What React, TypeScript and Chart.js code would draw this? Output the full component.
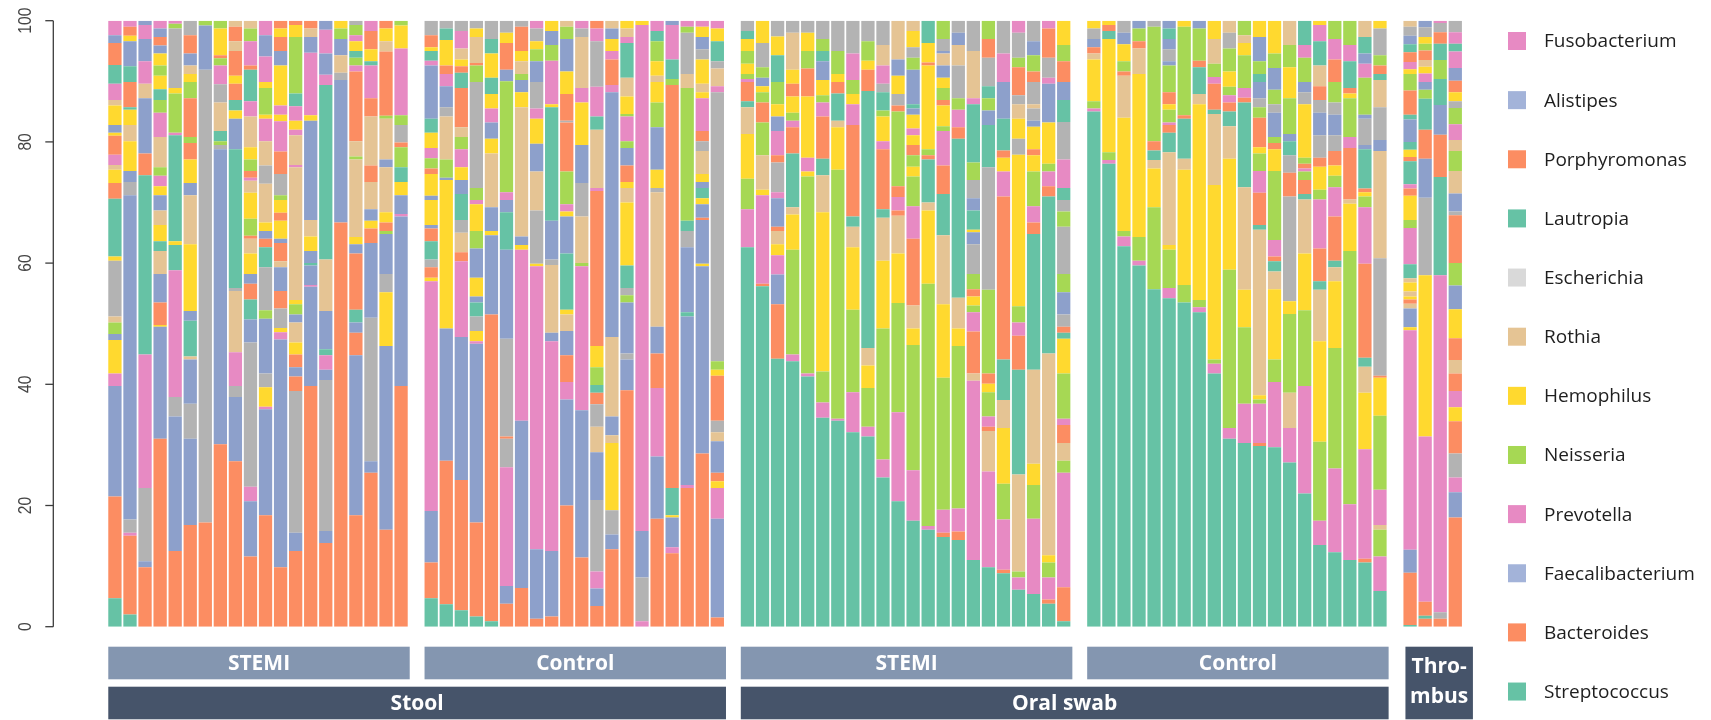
import { useEffect, useRef } from "react";
import { Chart, registerables } from "chart.js";

Chart.register(...registerables);

// colour codes (Set2 palette, repeated for the many genera)
const T = 0, O = 1, B = 2, P = 3, G = 4, Y = 5, N = 6, A = 7;
const palette = ["#66c2a5", "#fc8d62", "#8da0cb", "#e78ac3", "#a6d854", "#ffd92f", "#e5c494", "#b3b3b3"];

// each sample: [colour, cumulative top %, colour, cumulative top %, ...] bottom -> top
const stoolStemi = [
  [T,4.7,O,21.5,B,39.7,P,41.8,Y,47.3,B,48.3,G,50.2,N,51.2,A,60.4,Y,61.1,T,70.6,O,73.2,Y,75.4,N,76.2,P,77.9,O,81,Y,81.5,B,82.8,Y,86,N,86.9,P,89.6,T,92.7,O,96.3,B,97.6,P,100],
  [T,2,O,15,P,15.5,A,17.7,B,71.2,A,73.4,B,75.2,Y,80.1,N,82.8,Y,85.3,T,85.7,O,89.9,T,92.5,B,96.6,Y,97.5,O,99,P,100],
  [O,9.8,B,10.8,A,22.9,P,44.9,T,74.5,O,78.1,B,87.2,N,89.6,P,93.3,B,97,P,99.3,B,100],
  [O,31,B,49.5,Y,49.8,O,53.5,B,58.2,N,62,T,63.6,Y,66.3,N,68.7,B,71.2,Y,72.7,P,74.4,G,75.8,N,80.8,P,84.8,G,86.9,T,88.7,Y,90.9,G,92.6,Y,94.6,B,95.9,O,97.3,B,98.7,P,100],
  [O,12.5,B,34.7,A,37.9,P,58.8,T,63,Y,63.6,T,81.1,P,81.5,G,88,Y,88.9,A,98.7,G,99.5,P,100],
  [O,16.8,B,31,A,36.8,B,44.1,N,44.6,T,50.5,B,52.1,Y,63.1,N,71.2,B,73.2,Y,77.1,O,79.8,G,80.8,O,87.2,G,89.9,Y,91.2,N,92.6,B,94.6,O,97.6,A,100],
  [O,17.2,A,91.9,B,99.2,G,100],
  [O,30.1,B,78.8,A,79.5,G,80.1,T,81.8,N,86.5,A,89.5,P,92.6,G,93.8,O,94.3,Y,98.7,G,100],
  [O,27.3,B,37.9,A,39.7,P,45.3,N,55.4,A,55.9,T,78.8,B,83.8,Y,85.2,T,86.9,O,89.6,Y,90.9,O,95,N,96.6,O,99,N,100],
  [O,11.6,B,20.7,P,23.1,A,46.9,B,50.7,T,54,O,56.6,B,58.2,Y,61.6,N,64,O,64.5,G,67.3,Y,71.6,N,73.6,P,74.1,O,75.2,G,77.1,Y,79.1,N,84.2,P,86.7,T,91.9,O,92.6,P,96.6,G,98.7,N,100],
  [O,18.4,B,35.9,P,36.3,Y,39.5,A,41.8,B,50.8,G,52.2,A,59.3,T,62.6,O,64,B,65.3,Y,66.7,N,73.1,A,76.1,N,80.1,P,83.8,Y,84.5,G,88.9,Y,89.9,P,94.1,B,97.6,P,100],
  [O,9.8,B,47.4,P,48.6,Y,49.3,A,52.5,O,55.4,B,59.3,N,60.3,O,63.3,B,64,Y,67,O,68.3,Y,70.4,G,71.2,A,74.7,O,78.4,P,83.4,Y,84.5,P,86,Y,92.6,B,95,O,97.3,Y,98.7,O,100],
  [O,12.5,B,15.5,A,38.9,O,41.3,B,42.8,O,44.9,Y,46.9,N,50.2,B,51.5,G,53.2,Y,53.9,N,75.8,P,76.2,N,81.1,P,82,Y,83.5,P,85.9,T,88,G,97.3,Y,99.3,O,100],
  [O,39.7,B,56.1,P,56.4,B,59.6,T,60,B,62,Y,64.4,N,67.1,B,83.5,Y,84.4,P,94.7,B,97.3,N,98.7,O,100],
  [O,13.8,B,15.8,A,40.7,B,42.4,P,44.8,T,45.8,B,52.1,N,60.6,T,89.4,P,91.1,B,94.6,P,98.5,B,100],
  [O,66.7,B,90.2,A,91.4,N,94.3,B,97,G,98.7,Y,100],
  [O,18.4,B,44.8,O,48.5,B,50.2,T,52.3,O,61.6,B,63.1,Y,64.3,N,77.1,G,77.6,N,80.1,O,91.6,P,92.6,G,93.9,T,95,Y,96.6,P,97.6,G,99.3,A,100],
  [O,25.4,B,27.3,A,51,B,63.3,O,65.7,Y,67,B,68.9,N,73.4,O,76.1,N,84.2,O,87.2,P,92.6,T,93.3,Y,95.3,O,98.3,P,100],
  [O,16,B,46.3,Y,55.2,A,58.2,B,64.8,G,65.3,O,66.7,Y,68.4,N,75.8,B,77.1,N,83.8,G,84.3,O,94.9,N,96.6,Y,98.7,O,100],
  [O,39.7,B,67.7,P,68.1,B,71.2,Y,73.4,T,75.8,G,79.1,O,79.9,A,82.8,G,84.4,P,95.4,Y,99.2,G,100],
];

const stoolControl = [
  [T,4.7,O,10.6,B,19.1,P,57,Y,57.6,O,59.3,A,60.6,T,63.6,O,65.7,B,66.3,Y,70.4,B,71.1,Y,74.7,O,75.6,G,77.3,P,79,Y,81.5,T,83.8,B,92.6,P,93.4,T,95,Y,95.6,O,97.6,A,100],
  [T,3.7,O,27.4,B,49.2,Y,73.7,B,74.1,G,77.1,N,84.2,A,85.7,B,89.2,P,91.2,O,92.6,Y,96.8,T,98.7,A,100],
  [T,2.7,O,24.2,B,47.8,P,60.3,O,61.8,N,65,A,67.1,T,71.4,B,73.7,Y,75.8,P,78.8,G,80.8,N,82.4,O,88.9,T,91.4,O,92.5,Y,93.6,N,95.4,P,98.3,A,100],
  [T,1.7,O,17.2,B,46.7,P,47.1,Y,48.8,A,51.2,T,53.5,B,54.5,Y,57.6,B,62.4,G,65.3,Y,69.7,P,70.4,G,72.4,A,89.9,G,92.6,O,93,N,97.3,Y,98.7,A,100],
  [T,0.9,O,51.5,B,64.6,Y,65.3,B,69.2,N,78.1,Y,80.5,B,83.2,P,85.5,Y,87.9,T,90.6,Y,94.6,T,97,A,100],
  [O,3.8,B,6.7,P,26.3,A,31,O,31.4,A,47.5,B,62.2,T,68.4,B,70.4,P,71.7,G,90,B,91.9,O,96.3,Y,98,A,100],
  [O,6.4,B,34,P,62.2,Y,63,B,64.4,N,85.7,Y,88.2,B,90.2,G,91.2,N,93.3,Y,95,O,99,A,100],
  [O,1.3,B,12.8,P,59.5,Y,59.9,A,68.7,N,75.1,B,79.7,Y,83.8,P,85.5,A,89.9,B,93.3,G,95.3,Y,96.6,A,98.7,P,100],
  [O,1.7,B,12.5,P,47.1,B,48.5,N,59.7,A,60.6,B,67,T,85.7,Y,86.2,P,93.4,G,96,B,98.3,Y,100],
  [O,20,B,37.5,P,40.4,O,44.8,B,48.8,N,51.5,Y,52.3,T,61.6,B,67.7,Y,68.5,P,69.7,G,75.1,O,83.2,A,83.5,O,87.9,Y,91.6,B,97,G,99,N,100],
  [O,11.4,B,35.7,P,59.5,G,60,N,67.7,A,73.2,B,79.5,Y,86.5,P,88.9,N,97.3,A,98.7,P,100],
  [O,3.4,B,6.3,P,9.1,A,20.9,B,28.8,N,33,A,36.7,O,38.6,T,39.9,G,42.8,Y,46.3,O,71.9,P,72.4,N,82,T,84.2,P,89.1,A,96.6,P,98.7,O,100],
  [O,12.8,B,15.2,A,19.2,Y,30.3,N,31.6,B,34.7,N,47.8,B,88.2,P,89.4,O,93.6,P,95,Y,97,B,98.7,N,100],
  [O,39,B,44.1,A,45.1,B,53.5,G,54.7,A,55.9,T,59.6,Y,70,N,72.4,Y,73.4,O,76.1,B,79,G,80.1,P,84.2,G,84.6,Y,87.5,N,90.6,T,96.3,P,97.3,N,98.7,Y,100],
  [P,0.9,A,8.1,B,15.8,P,99.3,Y,100],
  [O,17.8,B,28.1,P,39.4,O,45.1,B,49.5,N,71.7,A,72.4,Y,75.4,B,82.4,G,86.5,Y,89.9,N,90.9,Y,93.3,G,96.6,T,98.3,P,100],
  [O,12.1,P,13.1,B,18,Y,18.4,T,22.9,O,89.4,G,90.4,T,93.6,P,99.3,B,100],
  [O,22.9,P,23.4,B,51.2,T,51.9,B,62.6,A,65.3,T,67,G,88.9,N,91.2,A,98,G,99,P,100],
  [O,28.6,B,59.5,Y,59.9,B,67.1,O,67.5,B,69.7,Y,70.7,T,72.4,B,73.4,Y,74.7,N,78.5,A,80.1,O,81.8,P,87.2,Y,88.2,N,89.6,Y,93.6,A,95.3,B,97.3,Y,99,P,100],
  [O,1.5,B,17.8,P,22.9,Y,24,O,25.4,B,30.6,N,32.1,A,34,O,41.4,Y,42.4,G,43.8,A,88.2,P,89.2,N,92.1,A,93.3,T,96.6,Y,98.7,P,100],
];

const oralStemi = [
  [T,62.6,P,68.9,G,73.9,Y,81.3,N,85.7,T,86.7,O,89.9,P,90.4,G,91.2,Y,92.9,G,95,Y,97,T,98.3,A,100],
  [T,56.2,O,56.6,P,71.2,Y,72.1,N,77.8,G,83.2,O,86.5,G,88.2,Y,89.2,B,90.6,G,92.3,A,96.3,Y,100],
  [T,44.2,O,53.2,B,58.1,P,61.3,Y,63.1,N,65.3,O,66,B,70.7,P,71.7,A,76.6,O,77.8,P,81.8,B,84.2,Y,86.2,G,89.9,T,94.3,Y,97.4,A,100],
  [T,43.8,P,44.9,G,62.2,Y,68,N,69.2,T,78.1,O,82.4,P,83.5,G,84.8,Y,87.5,O,89.6,Y,91.9,N,98,A,100],
  [T,41.3,P,41.8,G,74.3,Y,75.1,P,77.4,Y,87.5,O,92.1,G,95,Y,98,A,100],
  [T,34.5,P,37,G,42.1,Y,68.4,N,74.5,T,77.2,O,84.2,P,86.5,G,87.7,Y,90.2,B,93.3,T,95,G,97,A,100],
  [T,34,P,34.3,G,75.4,Y,82.4,N,83.5,T,88,O,89.9,Y,91.2,G,95,A,100],
  [T,32.1,P,38.7,G,52.3,Y,62.6,N,66,T,67.7,O,82.8,P,86.2,Y,87.9,G,90.2,P,94.6,A,100],
  [T,31.4,P,33,G,39.4,Y,43.1,N,46,T,88.4,O,91.9,Y,93.4,G,96.6,A,100],
  [T,24.6,P,27.6,G,49.2,Y,60.4,N,67.5,T,68.9,O,78.8,P,80.1,Y,84.2,G,85.2,T,88.2,A,89.6,P,92.6,N,96,A,100],
  [T,20.7,P,35.4,G,53.4,Y,61.6,N,67.8,O,68.7,P,70.9,O,72.7,G,85,O,86,A,87.9,Y,90.9,B,93.6,N,100],
  [T,17.5,P,25.8,G,46.5,Y,49.2,N,53,O,64,P,69.4,G,74.3,Y,75.9,G,77.8,O,79.5,Y,81.1,P,82.2,Y,84.5,B,85.5,T,86.2,B,91.9,G,93.9,A,95.6,Y,98.3,N,100],
  [T,16,P,16.6,G,56.6,Y,68.7,N,70,T,77.1,O,77.8,G,78.8,Y,92.6,O,93.1,Y,96.3,T,100],
  [T,14.8,O,15.5,P,19.3,G,41.1,Y,53.2,N,64.6,T,71.4,O,76.1,P,81.8,G,82.6,Y,86,O,86.9,G,88.9,Y,90.6,B,92.6,N,94.6,B,95,A,97,G,100],
  [T,14.3,O,15.7,P,19.5,G,46.3,Y,49.2,N,54.3,T,80.5,O,82.4,P,85.3,G,87.2,A,92.6,N,96,B,98,A,100],
  [T,11,P,40.6,N,41.8,O,48.7,P,51.9,G,53,Y,54.5,O,55.7,G,58.2,A,63.1,B,65.1,Y,65.5,T,68.7,B,70.7,A,73.7,G,76.6,T,86.2,P,87.2,N,95,A,100],
  [T,9.8,P,25.6,N,32.3,O,33,P,34.7,G,38.7,Y,40.1,O,41.8,G,55.6,A,75.8,T,82.8,B,85.2,G,87.2,T,89.2,A,93.9,O,97,G,100],
  [T,8.8,O,9.4,P,17.7,G,23.6,Y,32.8,N,37.4,T,44.1,O,71,P,75.1,Y,77.4,O,78.6,T,83.8,B,89.9,P,94.6,A,100],
  [T,6.1,P,8.1,G,9.1,N,25.1,T,42.4,O,48,P,50.2,G,52.9,Y,77.9,A,80.5,Y,83.8,N,86.2,A,87.7,O,92.3,G,93.9,A,98,P,100],
  [T,5.4,P,17.8,G,23.4,Y,26.9,N,42.4,T,64.8,O,66.7,P,69.4,G,75.1,Y,77.8,O,78.8,Y,82.5,B,83.5,A,85.5,N,86.2,A,89.9,O,91.6,G,94.3,B,96.6,A,100],
  [T,3.8,O,4.5,P,8.1,G,10.6,Y,11.8,N,45.1,T,71,O,72.7,P,75.1,G,76.4,Y,83.2,B,89.6,P,90.6,A,93.9,O,98.7,P,100],
  [T,0.9,O,6.5,P,25.4,G,27.4,N,30.3,O,33.3,P,34.3,G,41.8,Y,47.5,T,48.5,O,49.5,A,51.5,B,55.2,G,58.2,A,66,G,68.5,A,70.4,T,72.4,P,77.1,A,83.3,T,86.9,B,89.9,O,93.3,G,96,Y,100],
];

const oralControl = [
  [T,85,P,85.5,G,86.7,Y,93.6,N,94.6,O,95.6,B,97,A,98.7,Y,100],
  [T,76.4,P,77,G,78.3,Y,97,T,98.3,O,99.3,Y,100],
  [T,62.8,P,64.4,G,65.3,Y,84,N,90.9,O,91.6,G,93.3,Y,96.1,B,98,A,100],
  [T,59.6,P,60.4,G,64.3,Y,91.2,N,95.4,O,96.6,G,98.7,B,100],
  [T,55.7,G,69.2,Y,75.6,N,77,T,78.6,O,80.1,G,99,A,100],
  [T,54.2,P,55.9,G,62.2,Y,63,N,78.3,T,81.5,O,82.8,P,83.2,G,85.3,Y,86.2,O,88.2,G,92.6,B,93.3,A,95.3,B,97,T,98.7,B,100],
  [T,53.5,G,56.4,Y,75.4,N,77.2,T,83.8,O,84.4,G,99,Y,100],
  [T,51.9,P,52.7,G,53.9,Y,86.2,N,87.9,T,92.3,O,93.4,G,98.7,B,100],
  [T,41.8,P,43.4,G,44.1,Y,72.9,N,84.6,T,85.3,O,89.6,P,90.7,G,92.9,N,97,Y,100],
  [T,31,P,32.8,G,58.9,Y,77.2,N,82.6,T,85,O,86.5,P,87.7,G,89.1,Y,91.6,G,95.4,A,98,N,100],
  [T,30.3,P,36.8,G,49.4,Y,55.6,N,72.5,T,86.5,O,87.3,P,88.9,G,94.3,Y,96.3,N,97.6,G,100],
  [T,29.8,O,30.3,P,36.8,G,37.5,Y,38.2,N,65.5,T,66.3,O,71.6,P,75.2,G,78.1,Y,79.1,O,84,G,85.7,A,87.2,B,89.9,T,91.2,G,93.3,B,97.3,Y,100],
  [T,29.6,P,40.4,G,44.1,Y,55.7,N,58.6,T,60.3,O,61.1,P,63.8,G,75.2,Y,78.8,O,79.8,G,80.8,B,84.8,A,86.2,G,88.6,B,92.2,G,94.6,Y,100],
  [T,27.1,P,32.8,N,38.6,G,51.6,Y,53.7,A,71,O,74.9,A,77.8,T,80.1,B,81.3,G,87.2,Y,92.3,G,96,N,100],
  [T,22,P,39.7,G,52.2,Y,61.6,N,70.5,T,71.4,O,73.7,G,75.1,P,75.6,O,76.4,G,77.4,Y,86.2,A,88.2,B,89.9,G,93.9,P,96,T,100],
  [T,13.5,P,17.5,G,30.5,Y,47.1,N,55.6,T,57,O,62.4,P,70.5,G,72.1,Y,75.9,O,77.4,A,81.1,B,84.8,A,86.9,O,89.2,N,92.6,T,96.6,P,99.3,Y,100],
  [T,12.3,P,26.1,G,46,Y,57,N,59.3,T,60.4,O,67.7,P,72.5,G,74.4,Y,76.1,O,78.5,A,81.1,B,84.5,A,86.5,G,89.9,O,93.6,P,97,G,100],
  [T,11,P,20.2,G,62,Y,69.8,N,70.5,O,79,P,80.8,G,87.2,Y,88,O,88.9,T,93.3,P,96,G,100],
  [T,10.6,O,11.2,P,29.3,Y,38.6,N,42.9,T,44.4,O,59.9,P,69.2,G,71,Y,71.7,O,72.3,T,78.8,B,79.5,A,83.8,B,84.5,G,90.6,P,92.9,B,94.6,T,97.3,N,100],
  [T,5.9,P,11.6,G,16,N,16.8,P,22.6,G,34.8,Y,41.1,O,41.4,A,60.8,N,78.5,B,80.3,A,85.7,N,90.2,T,91.2,O,92.6,G,94.3,A,98.7,Y,100],
];

const thrombus = [
  [T,0.3,O,8.9,B,12.7,P,48.9,Y,49.4,B,52.5,N,53.3,O,54,Y,54.5,N,55.3,Y,56.8,N,57.5,T,59.8,P,65.8,G,67.1,Y,71.1,O,72.3,P,73,T,76.8,O,77.5,Y,78.7,T,80,B,83.7,T,84.5,O,88.5,G,91.2,Y,92,P,93.2,O,94.8,T,96.1,B,97.5,A,99,N,100],
  [O,1.3,T,1.8,O,4.1,P,31.4,Y,58,A,70.8,B,77.2,O,82,T,87.1,G,88.6,B,89.9,P,91.3,Y,92.4,N,93.5,O,95.1,G,96.2,Y,97.3,A,98.9,B,100],
  [O,1.3,A,2.4,P,58,T,74.2,O,81.2,B,86.1,T,90.4,G,93.5,T,96.2,O,98.1,A,99.6,P,100],
  [O,18,B,22.2,P,24.6,A,28.6,O,33.9,Y,36.2,P,38.9,O,41.8,N,44,O,47.6,Y,52.4,B,56.3,G,60,O,67.9,A,68.5,B,71.5,N,75.2,G,78.5,N,80.3,P,82.9,G,85.6,A,86.7,Y,88.2,O,90.1,B,92.2,P,94.9,T,96.2,P,98.1,A,100],
];

const legendNames = ["Fusobacterium", "Alistipes", "Porphyromonas", "Lautropia", "Escherichia", "Rothia", "Hemophilus", "Neisseria", "Prevotella", "Faecalibacterium", "Bacteroides", "Streptococcus"];
const legendColors = ["#e78ac3", "#a3b3d9", "#fc8d62", "#66c2a5", "#d9d9d9", "#e5c494", "#ffd92f", "#a6d854", "#e78ac3", "#a3b3d9", "#fc8d62", "#66c2a5"];
const yTicks = [0, 20, 40, 60, 80, 100];

const groupDefs = [
  { site: "Stool", sub: "STEMI", samples: stoolStemi },
  { site: "Stool", sub: "Control", samples: stoolControl },
  { site: "Oral swab", sub: "STEMI", samples: oralStemi },
  { site: "Oral swab", sub: "Control", samples: oralControl },
  { site: "Thrombus", sub: "", samples: thrombus },
];
const siteLabels = [
  { label: "Stool", groups: [0, 1] },
  { label: "Oral swab", groups: [2, 3] },
];

export default function App() {
  const ref = useRef<HTMLCanvasElement | null>(null);

  useEffect(() => {
    const canvas = ref.current;
    if (!canvas) return;

    const slots: { segs: number[] | null; label: string }[] = [];
    const ranges: { first: number; last: number }[] = [];
    groupDefs.forEach((g, gi) => {
      const first = slots.length;
      g.samples.forEach((s, si) => slots.push({ segs: s, label: `${g.site} ${g.sub} ${si + 1}` }));
      ranges.push({ first, last: slots.length - 1 });
      if (gi < groupDefs.length - 1) slots.push({ segs: null, label: `gap ${gi}` });
    });

    const maxSeg = Math.max(...slots.map((s) => (s.segs ? s.segs.length / 2 : 0)));
    const BAR_PCT = 0.883;
    const datasets: any[] = [];
    for (let k = 0; k < maxSeg; k++) {
      datasets.push({
        label: `segment ${k + 1}`,
        data: slots.map((s) => {
          if (!s.segs || k >= s.segs.length / 2) return null;
          const lo = k === 0 ? 0 : s.segs[2 * k - 1];
          return [lo, s.segs[2 * k + 1]];
        }),
        backgroundColor: slots.map((s) => (s.segs && k < s.segs.length / 2 ? palette[s.segs[2 * k]] : "rgba(0,0,0,0)")),
        borderWidth: 0,
        grouped: false,
        barPercentage: BAR_PCT,
        categoryPercentage: 1,
      });
    }

    const decor = {
      id: "decor",
      afterDraw(chart: any) {
        const ctx = chart.ctx;
        const xs = chart.scales.x;
        const ys = chart.scales.y;
        const area = chart.chartArea;
        const barW = (xs.width / slots.length) * BAR_PCT;
        const bl = (i: number) => xs.getPixelForValue(i) - barW / 2;
        const br = (i: number) => xs.getPixelForValue(i) + barW / 2;

        // y axis
        ctx.save();
        const axX = 53.3;
        ctx.strokeStyle = "#3c3c3c";
        ctx.lineWidth = 1.3;
        ctx.beginPath();
        ctx.moveTo(axX, ys.getPixelForValue(0));
        ctx.lineTo(axX, ys.getPixelForValue(100));
        ctx.stroke();
        ctx.fillStyle = "#444";
        ctx.font = '19px "Liberation Sans", Arial, sans-serif';
        ctx.textAlign = "center";
        ctx.textBaseline = "middle";
        yTicks.forEach((v) => {
          const py = ys.getPixelForValue(v);
          ctx.beginPath();
          ctx.moveTo(axX - 8, py);
          ctx.lineTo(axX, py);
          ctx.stroke();
          ctx.save();
          ctx.translate(26, py);
          ctx.rotate(-Math.PI / 2);
          ctx.scale(0.82, 1);
          ctx.fillText(String(v), 0, 0);
          ctx.restore();
        });
        ctx.restore();

        // group boxes
        const row1Top = area.bottom + 20;
        const row2Top = area.bottom + 60;
        const boxH = 32.6;
        ctx.save();
        ctx.textAlign = "center";
        ctx.textBaseline = "middle";
        ctx.font = 'bold 21px "Open Sans", "Noto Sans", sans-serif';
        groupDefs.forEach((g, gi) => {
          const r = ranges[gi];
          if (g.sub) {
            const x0 = bl(r.first), x1 = br(r.last) + 2;
            ctx.fillStyle = "#8496b0";
            ctx.fillRect(x0, row1Top, x1 - x0, boxH);
            ctx.fillStyle = "#ffffff";
            ctx.fillText(g.sub, (x0 + x1) / 2, row1Top + boxH / 2 + 1);
          } else {
            const x0 = bl(r.first) + 2, x1 = br(r.last) + 11;
            ctx.fillStyle = "#46546a";
            ctx.fillRect(x0, row1Top, x1 - x0, row2Top + boxH - row1Top);
            ctx.fillStyle = "#ffffff";
            ctx.fillText("Thro-", (x0 + x1) / 2, row1Top + 20);
            ctx.fillText("mbus", (x0 + x1) / 2, row1Top + 50);
          }
        });
        siteLabels.forEach((s) => {
          const x0 = bl(ranges[s.groups[0]].first);
          const x1 = br(ranges[s.groups[s.groups.length - 1]].last) + 2;
          ctx.fillStyle = "#46546a";
          ctx.fillRect(x0, row2Top, x1 - x0, boxH);
          ctx.fillStyle = "#ffffff";
          ctx.fillText(s.label, (x0 + x1) / 2, row2Top + boxH / 2 + 1);
        });
        ctx.restore();

        // legend
        ctx.save();
        ctx.font = '19px "Open Sans", "Noto Sans", sans-serif';
        ctx.textAlign = "left";
        ctx.textBaseline = "middle";
        legendNames.forEach((name, i) => {
          const cy = 41 + i * 59.14;
          ctx.fillStyle = legendColors[i];
          ctx.fillRect(1508, cy - 9, 18, 18);
          ctx.fillStyle = "#1e1e1e";
          ctx.fillText(name, 1544, cy + 1);
        });
        ctx.restore();
      },
    };

    const chart = new Chart(canvas, {
      type: "bar",
      data: { labels: slots.map((s) => s.label), datasets },
      options: {
        responsive: false,
        animation: false,
        devicePixelRatio: 1,
        layout: { padding: { left: 107.4, right: 248.2, top: 20.7, bottom: 93.3 } },
        plugins: { legend: { display: false }, tooltip: { enabled: false } },
        scales: {
          x: { type: "category", display: false, offset: true },
          y: { display: false, min: 0, max: 100 },
        },
      },
      plugins: [decor],
    });
    return () => chart.destroy();
  }, []);

  return (
    <div style={{ position: "absolute", left: 0, top: 0, width: 1711, height: 720, background: "#fff" }}>
      <canvas ref={ref} width={1711} height={720} style={{ width: 1711, height: 720, display: "block" }} />
    </div>
  );
}
